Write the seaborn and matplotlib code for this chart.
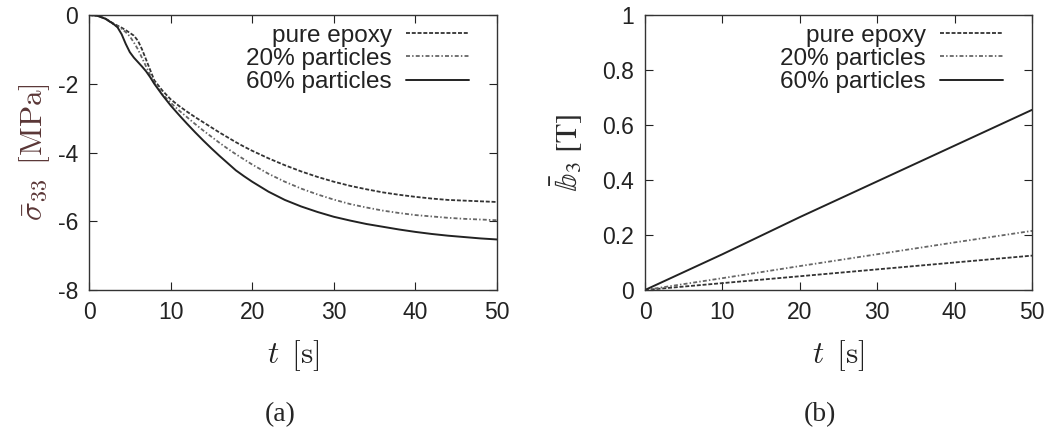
import numpy as np
import pandas as pd
import seaborn as sns
import matplotlib.pyplot as plt

# === Data ===
series = ["pure epoxy", "20% particles", "60% particles"]

t_a = [0, 1, 2, 3, 3.5, 4, 4.5, 5, 5.5, 6, 6.5, 7, 7.5, 8, 9, 10, 11, 12, 13, 14, 15, 16, 17, 18, 19,
       20, 22, 24, 26, 28, 30, 32, 34, 36, 38, 40, 42, 44, 46, 48, 50]
sigma_epoxy = [0, -0.02, -0.1, -0.25, -0.31, -0.37, -0.44, -0.52, -0.6, -0.75, -1.0, -1.3, -1.6, -1.9,
               -2.2, -2.45, -2.64, -2.81, -2.97, -3.12, -3.27, -3.42, -3.56, -3.7, -3.83,
               -3.95, -4.17, -4.37, -4.55, -4.71, -4.85, -4.97, -5.07, -5.16, -5.23, -5.29, -5.34,
               -5.38, -5.4, -5.42, -5.44]
sigma_p20 = [0, -0.02, -0.1, -0.27, -0.33, -0.4, -0.5, -0.62, -0.8, -1.0, -1.25, -1.5, -1.75, -1.98,
             -2.3, -2.55, -2.77, -2.97, -3.17, -3.36, -3.54, -3.72, -3.89, -4.05, -4.2,
             -4.35, -4.62, -4.85, -5.05, -5.22, -5.37, -5.5, -5.6, -5.69, -5.76, -5.82, -5.86,
             -5.9, -5.93, -5.95, -5.97]
sigma_p60 = [0, -0.02, -0.11, -0.26, -0.36, -0.56, -0.84, -1.08, -1.24, -1.37, -1.5, -1.64, -1.81, -2.0,
             -2.33, -2.63, -2.9, -3.16, -3.41, -3.65, -3.88, -4.1, -4.31, -4.52, -4.69,
             -4.85, -5.14, -5.38, -5.57, -5.73, -5.87, -5.98, -6.08, -6.16, -6.24, -6.31, -6.37,
             -6.42, -6.46, -6.5, -6.53]

t_b = [0, 10, 20, 30, 40, 50]
b_epoxy = [0, 0.025, 0.05, 0.075, 0.1, 0.125]
b_p20 = [0, 0.043, 0.087, 0.13, 0.173, 0.215]
b_p60 = [0, 0.13, 0.265, 0.395, 0.525, 0.655]

styles = {
    "pure epoxy": dict(color="#333333", linestyle=(0, (2.2, 1.0)), linewidth=1.3),
    "20% particles": dict(color="#666666", linestyle=(0, (2.2, 1.2, 0.8, 1.2)), linewidth=1.3),
    "60% particles": dict(color="#222222", linestyle="-", linewidth=1.4),
}

sns.set_style("ticks")
plt.rcParams["font.family"] = ["Liberation Sans", "DejaVu Sans"]

fig = plt.figure(figsize=(10.63, 4.3), dpi=100)
ax_a = fig.add_axes([89 / 1063, 1 - 290 / 430, 408 / 1063, 275 / 430])
ax_b = fig.add_axes([645 / 1063, 1 - 290 / 430, 387 / 1063, 275 / 430])

for name, ys in zip(series, [sigma_epoxy, sigma_p20, sigma_p60]):
    sns.lineplot(x=t_a, y=ys, ax=ax_a, label=name, **styles[name])
for name, ys in zip(series, [b_epoxy, b_p20, b_p60]):
    sns.lineplot(x=t_b, y=ys, ax=ax_b, label=name, **styles[name])

ax_a.set_xlim(0, 50)
ax_a.set_ylim(-8, 0)
ax_a.set_yticks([-8, -6, -4, -2, 0])
ax_a.set_yticklabels(["-8", "-6", "-4", "-2", "0"])
ax_b.set_xlim(0, 50)
ax_b.set_ylim(0, 1)
ax_b.set_yticks([0, 0.2, 0.4, 0.6, 0.8, 1])
ax_b.set_yticklabels(["0", "0.2", "0.4", "0.6", "0.8", "1"])

for ax, lx in ((ax_a, 0.931), (ax_b, 0.925)):
    ax.set_xticks([0, 10, 20, 30, 40, 50])
    ax.tick_params(direction="in", top=True, right=True, length=6, width=0.8,
                   labelsize=16.5, pad=8, colors="#222222")
    for sp in ax.spines.values():
        sp.set_linewidth(1.0)
        sp.set_color("#333333")
    ax.set_xlabel(r"$t\ \,[\mathrm{s}]$", fontsize=22.5, math_fontfamily="cm",
                  labelpad=10, color="#222222")
    leg = ax.legend(loc="upper right", frameon=False, markerfirst=False, fontsize=17.5,
                    handlelength=2.6, handletextpad=0.58, labelspacing=0.05,
                    borderpad=0, borderaxespad=0, bbox_to_anchor=(lx, 0.965))
    for txt in leg.get_texts():
        txt.set_color("#222222")

ax_a.set_ylabel(r"$\bar{\sigma}_{33}\ \,[\mathrm{MPa}]$", fontsize=22.5, math_fontfamily="cm",
                labelpad=4, color="#5a3636")
ax_b.set_ylabel(r"$\bar{\mathbb{b}}_{3}\ [\mathrm{T}]$", fontsize=22.5, math_fontfamily="stix",
                labelpad=12, color="#2a2a2a")

fig.text(280 / 1063, 1 - 415 / 430, "(a)", ha="center", va="center", fontsize=20,
         family="Liberation Serif")
fig.text(820 / 1063, 1 - 415 / 430, "(b)", ha="center", va="center", fontsize=20,
         family="Liberation Serif")

fig.savefig("out.png", dpi=100)
